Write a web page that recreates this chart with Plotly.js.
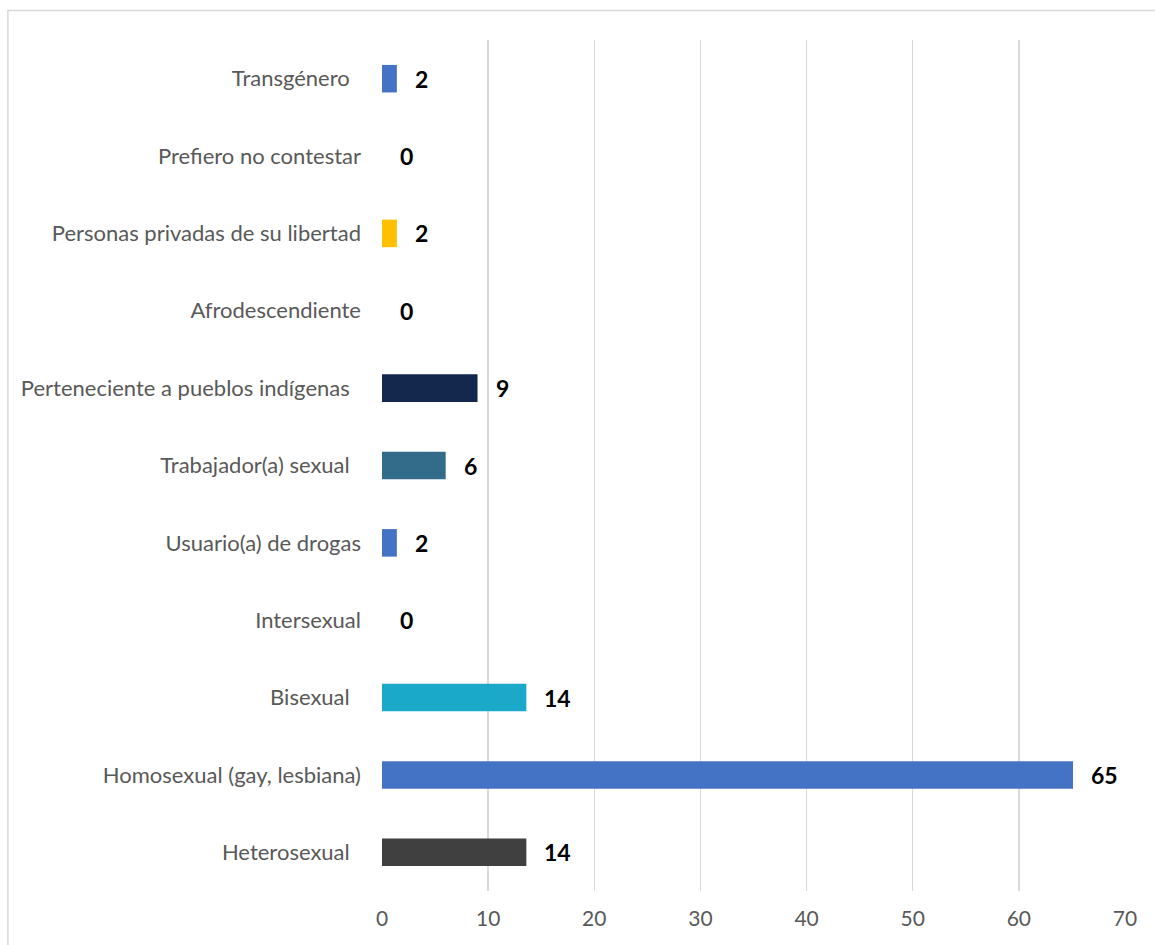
<!DOCTYPE html>
<html>
<head>
<meta charset="utf-8">
<script src="https://cdn.plot.ly/plotly-3.0.1.min.js"></script>
<style>html,body{margin:0;padding:0;background:#fff;}#chart{width:1155px;height:945px;}</style>
</head>
<body>
<div id="chart"></div>
<script>
// Categories listed bottom-to-top
const categories = [
  "Heterosexual",
  "Homosexual (gay, lesbiana)",
  "Bisexual",
  "Intersexual",
  "Usuario(a) de drogas",
  "Trabajador(a) sexual",
  "Perteneciente a pueblos indígenas",
  "Afrodescendiente",
  "Personas privadas de su libertad",
  "Prefiero no contestar",
  "Transgénero"
];
const tickLabels = [
  "Heterosexual\u00a0\u00a0",
  "Homosexual (gay, lesbiana)",
  "Bisexual\u00a0\u00a0",
  "Intersexual",
  "Usuario(a) de drogas",
  "Trabajador(a) sexual\u00a0\u00a0",
  "Perteneciente a pueblos indígenas\u00a0\u00a0",
  "Afrodescendiente",
  "Personas privadas de su libertad",
  "Prefiero no contestar",
  "Transgénero\u00a0\u00a0"
];
const values = [13.6, 65.1, 13.6, 0, 1.4, 6.0, 9.0, 0, 1.4, 0, 1.4];
const valueLabels = ["14", "65", "14", "0", "2", "6", "9", "0", "2", "0", "2"];
const barColors = ["#404040", "#4472C4", "#1BA9C9", "#4472C4", "#4472C4", "#336B8A", "#14284D", "#4472C4", "#FFC000", "#4472C4", "#4472C4"];
const xTicks = [0, 10, 20, 30, 40, 50, 60, 70];

const FONT = "Lato, 'Open Sans', sans-serif";

const trace = {
  type: "bar",
  orientation: "h",
  x: values,
  y: categories,
  marker: {color: barColors, line: {width: 0}},
  hoverinfo: "none"
};

const annotations = categories.map((c, i) => ({
  x: values[i], y: c, xref: "x", yref: "y",
  text: valueLabels[i], showarrow: false,
  xanchor: "left", yanchor: "middle", xshift: 16,
  font: {family: FONT, size: 23, color: "#000000", weight: 700}
}));

const layout = {
  width: 1155, height: 945,
  margin: {l: 382, r: 30, t: 40, b: 54, pad: 0},
  paper_bgcolor: "#ffffff", plot_bgcolor: "#ffffff",
  showlegend: false,
  bargap: 0.644,
  font: {family: FONT, color: "#595959"},
  xaxis: {
    range: [0, 70], tickvals: xTicks, ticktext: xTicks.map(String),
    showgrid: true, gridcolor: "#D9D9D9", gridwidth: 1.5,
    zeroline: false, showline: false, ticks: "",
    ticklabelstandoff: 13,
    tickfont: {family: FONT, size: 21, color: "#595959"},
    fixedrange: true
  },
  yaxis: {
    type: "category", tickvals: categories, ticktext: tickLabels,
    showgrid: false, zeroline: false, showline: false, ticks: "",
    ticklabelstandoff: 20,
    tickfont: {family: FONT, size: 22, color: "#595959"},
    fixedrange: true
  },
  annotations: annotations,
  shapes: [{
    type: "rect", xref: "paper", yref: "paper", layer: "below",
    x0: -0.5035, x1: 1.1, y0: -0.1, y1: 1.0347,
    line: {color: "#D9D9D9", width: 1.5}, fillcolor: "rgba(0,0,0,0)"
  }]
};

Plotly.newPlot("chart", [trace], layout, {displayModeBar: false, staticPlot: true});
</script>
</body>
</html>
